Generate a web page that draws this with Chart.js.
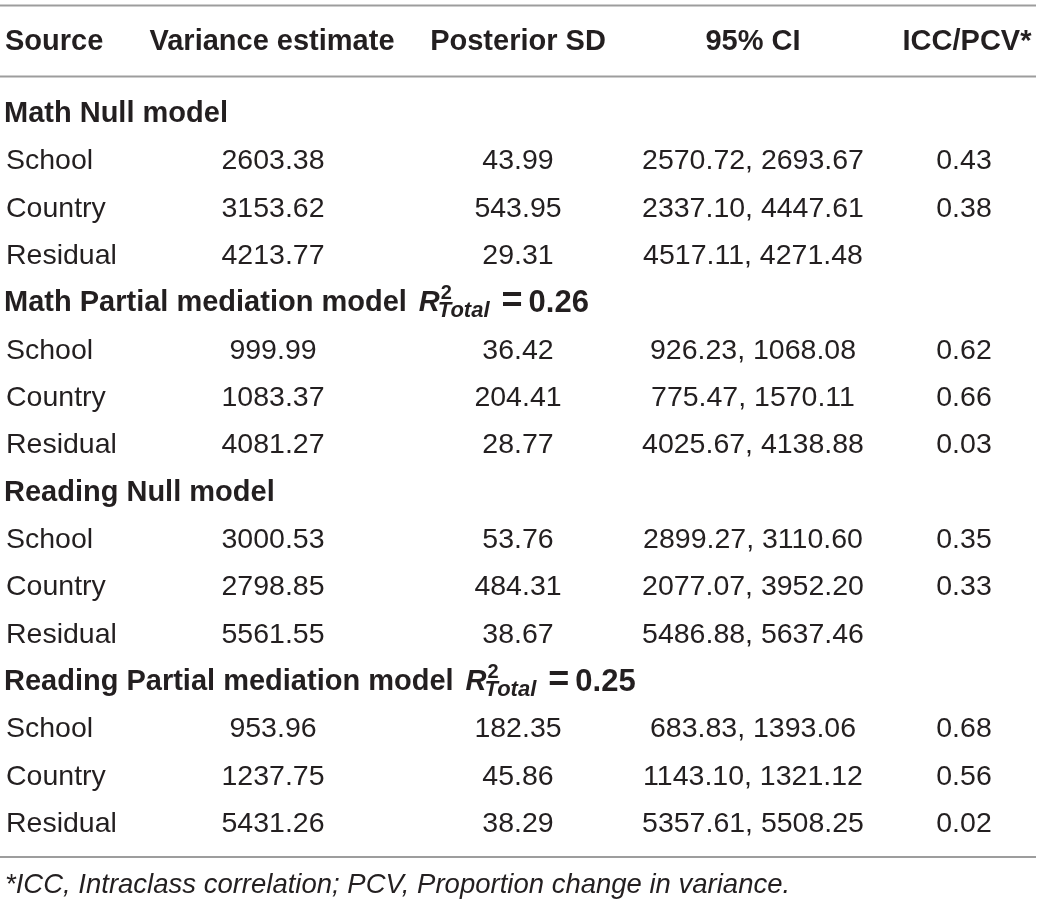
<!DOCTYPE html>
<html>
<head>
<meta charset="utf-8">
<script src="https://cdn.jsdelivr.net/npm/chart.js@4.4.0/dist/chart.umd.min.js"></script>
<style>
  html, body { margin: 0; padding: 0; background: #fff; }
  canvas { display: block; }
</style>
</head>
<body>
<canvas id="varianceTable" width="1041" height="906"></canvas>
<script>
// table content
const headers = ["Source", "Variance estimate", "Posterior SD", "95% CI", "ICC/PCV*"];
const groups = ["Math Null model", "Math Partial mediation model", "Reading Null model", "Reading Partial mediation model"];
const groupR2 = [null, 0.26, null, 0.25];
const sources = ["School", "Country", "Residual"];

const varianceEstimate = [2603.38, 3153.62, 4213.77, 999.99, 1083.37, 4081.27, 3000.53, 2798.85, 5561.55, 953.96, 1237.75, 5431.26];
const posteriorSD = [43.99, 543.95, 29.31, 36.42, 204.41, 28.77, 53.76, 484.31, 38.67, 182.35, 45.86, 38.29];
const ciLower = [2570.72, 2337.10, 4517.11, 926.23, 775.47, 4025.67, 2899.27, 2077.07, 5486.88, 683.83, 1143.10, 5357.61];
const ciUpper = [2693.67, 4447.61, 4271.48, 1068.08, 1570.11, 4138.88, 3110.60, 3952.20, 5637.46, 1393.06, 1321.12, 5508.25];
const iccPcv = [0.43, 0.38, null, 0.62, 0.66, 0.03, 0.35, 0.33, null, 0.68, 0.56, 0.02];

const footnote = "*ICC, Intraclass correlation; PCV, Proportion change in variance.";

// layout (x in canvas units, y in row units)
const FONT = '"Liberation Sans", Arial, Helvetica, sans-serif';
const INK = "#231f20";
const RULE = "#9d9d9d";
const headX = [5, 272, 518, 753, 967];
const cellX = [6, 273, 518, 753, 964];
const headerRow = -0.52;
const ruleRows = [-1.46, 0.04, 16.53];
const footRow = 17.29;

// one row for each group title, then 3 source rows
const rowOf = (i) => 2 + Math.floor(i / 3) * 4 + (i % 3);
const fmt = (v) => v.toFixed(2);

const cellLabels = [
  varianceEstimate.map(fmt),
  posteriorSD.map(fmt),
  ciLower.map((v, i) => fmt(v) + ", " + fmt(ciUpper[i])),
  iccPcv.map((v) => v === null ? "" : fmt(v))
];

const datasets = cellLabels.map((labels, c) => ({
  label: headers[c + 1],
  data: labels.map((_, i) => ({ x: cellX[c + 1], y: rowOf(i) })),
  pointRadius: 0,
  cellText: labels
}));

const tablePlugin = {
  id: "tableText",
  afterDatasetsDraw(chart) {
    const ctx = chart.ctx;
    const xs = chart.scales.x, ys = chart.scales.y;
    ctx.save();
    ctx.fillStyle = INK;
    ctx.textBaseline = "alphabetic";

    // rules
    ctx.strokeStyle = RULE;
    ctx.lineWidth = 2;
    ruleRows.forEach(r => {
      const y = ys.getPixelForValue(r);
      ctx.beginPath();
      ctx.moveTo(xs.getPixelForValue(0), y);
      ctx.lineTo(xs.getPixelForValue(1036), y);
      ctx.stroke();
    });

    // header
    ctx.font = "bold 29px " + FONT;
    headers.forEach((h, c) => {
      ctx.textAlign = c === 0 ? "left" : "center";
      ctx.fillText(h, xs.getPixelForValue(headX[c]), ys.getPixelForValue(headerRow));
    });

    // group titles, with the R-squared note
    groups.forEach((g, k) => {
      const y = ys.getPixelForValue(1 + k * 4);
      let x = xs.getPixelForValue(4);
      ctx.textAlign = "left";
      ctx.font = "bold 29px " + FONT;
      ctx.fillText(g, x, y);
      if (groupR2[k] === null) return;
      x += ctx.measureText(g).width + 12;
      ctx.font = "italic bold 29px " + FONT;
      ctx.fillText("R", x, y);
      x += ctx.measureText("R").width;
      ctx.font = "bold 20px " + FONT;
      ctx.fillText("2", x + 1, y - 12);
      ctx.font = "italic bold 22px " + FONT;
      ctx.fillText("Total", x - 2, y + 6);
      x += ctx.measureText("Total").width + 10;
      ctx.font = "bold 36px " + FONT;
      ctx.fillText("=", x, y + 1);
      x += ctx.measureText("=").width + 6;
      ctx.font = "bold 31px " + FONT;
      ctx.fillText(fmt(groupR2[k]), x, y + 1);
    });

    // source labels
    ctx.font = "28.5px " + FONT;
    ctx.textAlign = "left";
    groups.forEach((_, k) => {
      sources.forEach((s, j) => {
        ctx.fillText(s, xs.getPixelForValue(cellX[0]), ys.getPixelForValue(rowOf(k * 3 + j)));
      });
    });

    // numeric cells at the points placed by the scales
    ctx.textAlign = "center";
    chart.data.datasets.forEach((ds, d) => {
      chart.getDatasetMeta(d).data.forEach((pt, i) => {
        ctx.fillText(ds.cellText[i], pt.x, pt.y);
      });
    });

    // footnote
    ctx.font = "italic 27.5px " + FONT;
    ctx.textAlign = "left";
    ctx.fillText(footnote, xs.getPixelForValue(5), ys.getPixelForValue(footRow));
    ctx.restore();
  }
};

new Chart(document.getElementById("varianceTable"), {
  type: "scatter",
  data: { datasets: datasets },
  options: {
    responsive: false,
    animation: false,
    layout: { padding: 0 },
    plugins: { legend: { display: false }, tooltip: { enabled: false } },
    scales: {
      x: { type: "linear", min: 0, max: 1041, display: false },
      y: { type: "linear", min: -1.578, max: 17.565, reverse: true, display: false }
    }
  },
  plugins: [tablePlugin]
});
</script>
</body>
</html>
